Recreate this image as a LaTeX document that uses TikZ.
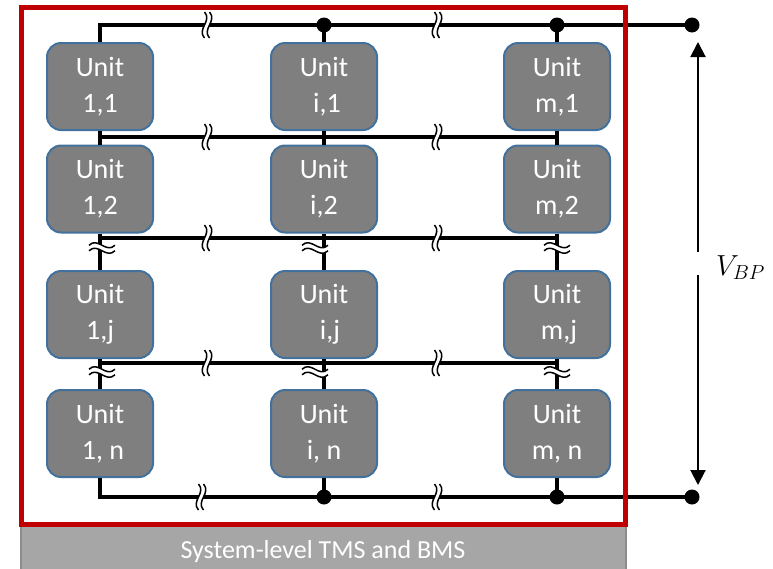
\RequirePackage{fix-cm}
\documentclass[tikz,border=0pt]{standalone}
\usepackage{fontspec}
\setmainfont{Carlito}
\usetikzlibrary{arrows.meta}

\definecolor{unitfill}{HTML}{7F7F7F}
\definecolor{unitedge}{HTML}{41719C}
\definecolor{framered}{HTML}{C00000}
\definecolor{barfill}{HTML}{A6A6A6}
\definecolor{baredge}{HTML}{8C8C8C}

\tikzset{
  unit/.style={draw=unitedge, line width=2pt, fill=unitfill, rounded corners=14pt,
    minimum width=106pt, minimum height=87pt, inner sep=0pt, text=white,
    align=center, font=\fontsize{28}{36}\selectfont},
  bus/.style={line width=3.5pt},
  junction/.style={circle, fill=black, minimum size=15pt, inner sep=0pt},
  volt/.style={line width=2pt, -{Triangle[length=15pt,width=15pt]}},
  % double wavy break mark that interrupts a line
  wavebreak/.pic={
    \fill[white] (-2.5,-13) .. controls (5.5,-4) and (-10.5,4) .. (-2.5,13)
      -- (2.5,13) .. controls (-5.5,4) and (10.5,-4) .. (2.5,-13) -- cycle;
    \draw[line width=1.5pt] (-2.5,-13) .. controls (5.5,-4) and (-10.5,4) .. (-2.5,13);
    \draw[line width=1.5pt] (2.5,-13) .. controls (10.5,-4) and (-5.5,4) .. (2.5,13);
  }
}

\begin{document}
\begin{tikzpicture}[x=1pt,y=-1pt]
\useasboundingbox (0,0) rectangle (773,568);

% system-level management bar
\fill[barfill] (21,527) rectangle (626,575);
\draw[baredge, line width=1.2pt] (21,527) -- (21,575) (626,527) -- (626,575);
\node[text=white, anchor=base, font=\fontsize{26}{30}\selectfont] (barlabel)
  at (323,558) {System-level TMS and BMS};

% units
\node[unit] (u11) at (100,86.5) {Unit\\1,1};
\node[unit] (u21) at (324,86.5) {Unit\\\hspace{6pt}i,1};
\node[unit] (u31) at (557,86.5) {Unit\\m,1};
\node[unit] (u12) at (100,189) {Unit\\1,2};
\node[unit] (u22) at (324,189) {Unit\\i,2};
\node[unit] (u32) at (557,189) {Unit\\m,2};
\node[unit] (u13) at (100,314.5) {Unit\\1,j};
\node[unit] (u23) at (324,314.5) {Unit\\\hspace{12pt}i,j};
\node[unit] (u33) at (557,314.5) {Unit\\\hspace{4pt}m,j};
\node[unit] (u14) at (100,433.5) {Unit\\\hspace{6pt}1, n};
\node[unit] (u24) at (324,433.5) {Unit\\i, n};
\node[unit] (u34) at (557,433.5) {Unit\\m, n};

% bus points
\coordinate (t2) at (324,25);
\coordinate (t3) at (557,25);
\coordinate (tR) at (692,25);
\coordinate (b2) at (324,497);
\coordinate (b3) at (557,497);
\coordinate (bR) at (692,497);
\coordinate (L1) at (100,137); \coordinate (R1) at (557,137);
\coordinate (L2) at (100,238); \coordinate (R2) at (557,238);
\coordinate (L3) at (100,363); \coordinate (R3) at (557,363);

% buses
\draw[bus] (u11.north) |- (tR);
\draw[bus] (u14.south) |- (bR);
\draw[bus] (L1) -- (R1);
\draw[bus] (L2) -- (R2);
\draw[bus] (L3) -- (R3);
\draw[bus] (t2) -- (u21.north);
\draw[bus] (t3) -- (u31.north);
\draw[bus] (u24.south) -- (b2);
\draw[bus] (u34.south) -- (b3);

% series links in each column
\foreach \c in {1,2,3}{
  \draw[bus] (u\c1.south) -- (u\c2.north);
  \draw[bus] (u\c2.south) -- (u\c3.north);
  \draw[bus] (u\c3.south) -- (u\c4.north);
}

% breaks on the buses
\foreach \y in {25,137,238,363}{
  \pic at (207,\y) {wavebreak};
  \pic at (437,\y) {wavebreak};
}
\pic at (201,497) {wavebreak};
\pic at (437,497) {wavebreak};

% breaks on the columns
\foreach \x/\y in {102/248,315/248,557/248,102/372,315/372,557/372}{
  \pic[rotate=90, xscale=1.1] at (\x,\y) {wavebreak};
}

% frame of the pack
\draw[framered, line width=5pt] (21,7.5) rectangle (625.5,524.5);

% junctions and terminals
\node[junction] (jt2) at (t2) {};
\node[junction] (jt3) at (t3) {};
\node[junction] (jtR) at (tR) {};
\node[junction] (jb2) at (b2) {};
\node[junction] (jb3) at (b3) {};
\node[junction] (jbR) at (bR) {};

% pack voltage
\coordinate (va) at (698,252);
\coordinate (vaTip) at (698,42);
\coordinate (vb) at (698,275);
\coordinate (vbTip) at (698,485);
\draw[volt] (va) -- (vaTip);
\draw[volt] (vb) -- (vbTip);
\node[font=\fontsize{29}{34}\selectfont, anchor=base west, inner sep=0pt] (vbp)
  at (716,275) {$V_{BP}$};
\end{tikzpicture}
\end{document}
